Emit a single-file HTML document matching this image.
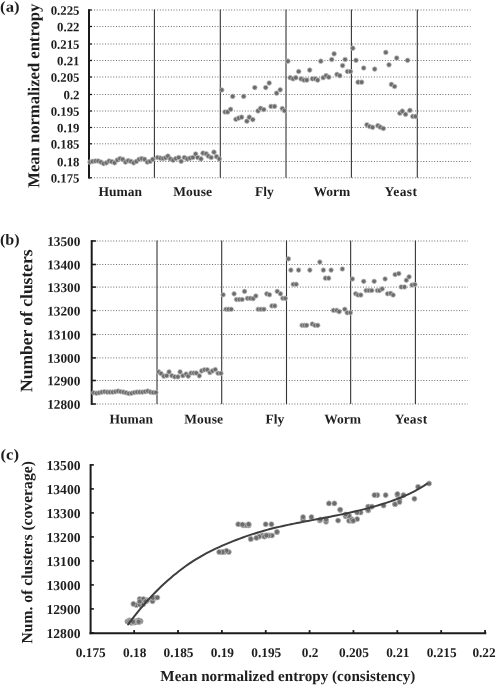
<!DOCTYPE html>
<html><head><meta charset="utf-8"><title>Figure</title>
<style>html,body{margin:0;padding:0;background:#fff;}svg{display:block;}text{font-family:"Liberation Serif",serif;font-weight:bold;fill:#1e1e1e;}</style></head><body>
<svg width="497" height="685" viewBox="0 0 497 685" style="will-change:transform">
<text transform="translate(0.10 11.70) rotate(0.04) scale(1.1 1)" font-size="15.2">(a)</text>
<text transform="translate(39.3,95.75) rotate(-90.04)" text-anchor="middle" font-size="16.6">Mean normalized entropy</text>
<line x1="94.00" y1="10.00" x2="470.60" y2="10.00" stroke="#6e6e6e" stroke-width="1" stroke-dasharray="1 1.744"/>
<text x="79.50" y="14.80" transform="rotate(0.04 79.50 14.80)" text-anchor="end" font-size="12.8">0.225</text>
<line x1="88.5" y1="10.00" x2="92.1" y2="10.00" stroke="#1a1a1a" stroke-width="1.3"/>
<line x1="94.00" y1="26.50" x2="470.60" y2="26.50" stroke="#6e6e6e" stroke-width="1" stroke-dasharray="1 1.744"/>
<text x="79.50" y="31.30" transform="rotate(0.04 79.50 31.30)" text-anchor="end" font-size="12.8">0.22</text>
<line x1="88.5" y1="26.50" x2="92.1" y2="26.50" stroke="#1a1a1a" stroke-width="1.3"/>
<line x1="94.00" y1="44.00" x2="470.60" y2="44.00" stroke="#6e6e6e" stroke-width="1" stroke-dasharray="1 1.744"/>
<text x="79.50" y="48.80" transform="rotate(0.04 79.50 48.80)" text-anchor="end" font-size="12.8">0.215</text>
<line x1="88.5" y1="44.00" x2="92.1" y2="44.00" stroke="#1a1a1a" stroke-width="1.3"/>
<line x1="94.00" y1="60.50" x2="470.60" y2="60.50" stroke="#6e6e6e" stroke-width="1" stroke-dasharray="1 1.744"/>
<text x="79.50" y="65.30" transform="rotate(0.04 79.50 65.30)" text-anchor="end" font-size="12.8">0.21</text>
<line x1="88.5" y1="60.50" x2="92.1" y2="60.50" stroke="#1a1a1a" stroke-width="1.3"/>
<line x1="94.00" y1="77.00" x2="470.60" y2="77.00" stroke="#6e6e6e" stroke-width="1" stroke-dasharray="1 1.744"/>
<text x="79.50" y="81.80" transform="rotate(0.04 79.50 81.80)" text-anchor="end" font-size="12.8">0.205</text>
<line x1="88.5" y1="77.00" x2="92.1" y2="77.00" stroke="#1a1a1a" stroke-width="1.3"/>
<line x1="94.00" y1="94.50" x2="470.60" y2="94.50" stroke="#6e6e6e" stroke-width="1" stroke-dasharray="1 1.744"/>
<text x="79.50" y="99.30" transform="rotate(0.04 79.50 99.30)" text-anchor="end" font-size="12.8">0.2</text>
<line x1="88.5" y1="94.50" x2="92.1" y2="94.50" stroke="#1a1a1a" stroke-width="1.3"/>
<line x1="94.00" y1="111.00" x2="470.60" y2="111.00" stroke="#6e6e6e" stroke-width="1" stroke-dasharray="1 1.744"/>
<text x="79.50" y="115.80" transform="rotate(0.04 79.50 115.80)" text-anchor="end" font-size="12.8">0.195</text>
<line x1="88.5" y1="111.00" x2="92.1" y2="111.00" stroke="#1a1a1a" stroke-width="1.3"/>
<line x1="94.00" y1="127.50" x2="470.60" y2="127.50" stroke="#6e6e6e" stroke-width="1" stroke-dasharray="1 1.744"/>
<text x="79.50" y="132.30" transform="rotate(0.04 79.50 132.30)" text-anchor="end" font-size="12.8">0.19</text>
<line x1="88.5" y1="127.50" x2="92.1" y2="127.50" stroke="#1a1a1a" stroke-width="1.3"/>
<line x1="94.00" y1="143.80" x2="470.60" y2="143.80" stroke="#6e6e6e" stroke-width="1" stroke-dasharray="1 1.744"/>
<text x="79.50" y="148.60" transform="rotate(0.04 79.50 148.60)" text-anchor="end" font-size="12.8">0.185</text>
<line x1="88.5" y1="143.80" x2="92.1" y2="143.80" stroke="#1a1a1a" stroke-width="1.3"/>
<line x1="94.00" y1="161.50" x2="470.60" y2="161.50" stroke="#6e6e6e" stroke-width="1" stroke-dasharray="1 1.744"/>
<text x="79.50" y="166.30" transform="rotate(0.04 79.50 166.30)" text-anchor="end" font-size="12.8">0.18</text>
<line x1="88.5" y1="161.50" x2="92.1" y2="161.50" stroke="#1a1a1a" stroke-width="1.3"/>
<line x1="94.00" y1="177.80" x2="470.60" y2="177.80" stroke="#6e6e6e" stroke-width="1" stroke-dasharray="1 1.744"/>
<text x="79.50" y="182.60" transform="rotate(0.04 79.50 182.60)" text-anchor="end" font-size="12.8">0.175</text>
<line x1="88.5" y1="177.80" x2="92.1" y2="177.80" stroke="#1a1a1a" stroke-width="1.3"/>
<line x1="89.0" y1="9.30" x2="89.0" y2="178.50" stroke="#1a1a1a" stroke-width="2"/>
<line x1="154.40" y1="9.40" x2="154.40" y2="177.80" stroke="#353535" stroke-width="1.1"/>
<line x1="220.30" y1="9.40" x2="220.30" y2="177.80" stroke="#353535" stroke-width="1.1"/>
<line x1="286.00" y1="9.40" x2="286.00" y2="177.80" stroke="#353535" stroke-width="1.1"/>
<line x1="351.40" y1="9.40" x2="351.40" y2="177.80" stroke="#353535" stroke-width="1.1"/>
<line x1="417.30" y1="9.40" x2="417.30" y2="177.80" stroke="#353535" stroke-width="1.1"/>
<g fill="#6c6c6c" stroke="#bdbdbd" stroke-width="0.75">
<circle cx="90.00" cy="162.10" r="2.35"/><circle cx="92.73" cy="161.40" r="2.35"/><circle cx="95.46" cy="161.00" r="2.35"/><circle cx="98.19" cy="161.00" r="2.35"/><circle cx="100.92" cy="162.10" r="2.35"/><circle cx="103.65" cy="163.60" r="2.35"/><circle cx="106.38" cy="162.80" r="2.35"/><circle cx="109.11" cy="161.00" r="2.35"/><circle cx="111.84" cy="161.70" r="2.35"/><circle cx="114.57" cy="162.80" r="2.35"/><circle cx="117.30" cy="160.00" r="2.35"/><circle cx="120.03" cy="158.60" r="2.35"/><circle cx="122.76" cy="159.30" r="2.35"/><circle cx="125.49" cy="162.10" r="2.35"/><circle cx="128.22" cy="160.70" r="2.35"/><circle cx="130.95" cy="161.40" r="2.35"/><circle cx="133.68" cy="162.80" r="2.35"/><circle cx="136.41" cy="161.40" r="2.35"/><circle cx="139.14" cy="159.30" r="2.35"/><circle cx="141.87" cy="158.60" r="2.35"/><circle cx="144.60" cy="159.30" r="2.35"/><circle cx="147.33" cy="162.10" r="2.35"/><circle cx="150.06" cy="161.40" r="2.35"/><circle cx="152.79" cy="159.30" r="2.35"/>
<circle cx="157.63" cy="157.51" r="2.35"/><circle cx="160.45" cy="158.21" r="2.35"/><circle cx="163.27" cy="158.49" r="2.35"/><circle cx="165.66" cy="157.79" r="2.35"/><circle cx="167.92" cy="156.10" r="2.35"/><circle cx="170.31" cy="158.92" r="2.35"/><circle cx="173.13" cy="160.18" r="2.35"/><circle cx="175.94" cy="158.49" r="2.35"/><circle cx="178.76" cy="157.51" r="2.35"/><circle cx="181.15" cy="161.31" r="2.35"/><circle cx="184.39" cy="157.51" r="2.35"/><circle cx="187.21" cy="158.92" r="2.35"/><circle cx="190.03" cy="158.21" r="2.35"/><circle cx="192.85" cy="157.51" r="2.35"/><circle cx="195.66" cy="153.99" r="2.35"/><circle cx="197.77" cy="157.51" r="2.35"/><circle cx="201.01" cy="158.92" r="2.35"/><circle cx="202.99" cy="153.14" r="2.35"/><circle cx="206.23" cy="153.85" r="2.35"/><circle cx="208.34" cy="156.10" r="2.35"/><circle cx="211.15" cy="157.51" r="2.35"/><circle cx="213.97" cy="152.15" r="2.35"/><circle cx="216.51" cy="156.66" r="2.35"/><circle cx="219.32" cy="158.92" r="2.35"/>
<circle cx="221.80" cy="90.00" r="2.35"/><circle cx="225.00" cy="112.00" r="2.35"/><circle cx="227.60" cy="112.00" r="2.35"/><circle cx="230.60" cy="109.30" r="2.35"/><circle cx="232.70" cy="96.40" r="2.35"/><circle cx="235.90" cy="119.30" r="2.35"/><circle cx="238.70" cy="118.10" r="2.35"/><circle cx="241.60" cy="117.20" r="2.35"/><circle cx="243.70" cy="96.40" r="2.35"/><circle cx="246.90" cy="121.20" r="2.35"/><circle cx="249.30" cy="117.20" r="2.35"/><circle cx="252.80" cy="119.60" r="2.35"/><circle cx="254.80" cy="87.60" r="2.35"/><circle cx="258.00" cy="110.90" r="2.35"/><circle cx="260.60" cy="108.30" r="2.35"/><circle cx="263.80" cy="109.60" r="2.35"/><circle cx="265.70" cy="87.60" r="2.35"/><circle cx="269.20" cy="83.00" r="2.35"/><circle cx="271.00" cy="106.40" r="2.35"/><circle cx="274.60" cy="106.40" r="2.35"/><circle cx="276.60" cy="93.20" r="2.35"/><circle cx="280.20" cy="89.80" r="2.35"/><circle cx="282.30" cy="108.50" r="2.35"/><circle cx="284.50" cy="110.70" r="2.35"/>
<circle cx="287.90" cy="61.20" r="2.35"/><circle cx="290.20" cy="77.70" r="2.35"/><circle cx="293.10" cy="78.80" r="2.35"/><circle cx="295.80" cy="77.70" r="2.35"/><circle cx="298.70" cy="71.50" r="2.35"/><circle cx="301.10" cy="78.90" r="2.35"/><circle cx="304.00" cy="80.10" r="2.35"/><circle cx="306.80" cy="80.10" r="2.35"/><circle cx="309.70" cy="70.10" r="2.35"/><circle cx="312.40" cy="78.80" r="2.35"/><circle cx="315.30" cy="78.80" r="2.35"/><circle cx="317.70" cy="80.10" r="2.35"/><circle cx="320.80" cy="61.20" r="2.35"/><circle cx="323.20" cy="77.70" r="2.35"/><circle cx="326.10" cy="75.70" r="2.35"/><circle cx="328.80" cy="77.20" r="2.35"/><circle cx="331.70" cy="59.50" r="2.35"/><circle cx="334.10" cy="53.80" r="2.35"/><circle cx="337.00" cy="74.40" r="2.35"/><circle cx="339.80" cy="75.70" r="2.35"/><circle cx="342.60" cy="65.60" r="2.35"/><circle cx="345.10" cy="59.50" r="2.35"/><circle cx="347.50" cy="71.50" r="2.35"/><circle cx="350.50" cy="71.50" r="2.35"/>
<circle cx="352.80" cy="48.20" r="2.35"/><circle cx="356.00" cy="60.30" r="2.35"/><circle cx="358.10" cy="82.20" r="2.35"/><circle cx="361.60" cy="82.20" r="2.35"/><circle cx="363.70" cy="68.00" r="2.35"/><circle cx="366.90" cy="124.80" r="2.35"/><circle cx="369.70" cy="126.50" r="2.35"/><circle cx="372.60" cy="127.30" r="2.35"/><circle cx="374.70" cy="69.10" r="2.35"/><circle cx="377.90" cy="125.70" r="2.35"/><circle cx="380.30" cy="127.20" r="2.35"/><circle cx="383.30" cy="128.50" r="2.35"/><circle cx="385.80" cy="52.40" r="2.35"/><circle cx="389.00" cy="64.80" r="2.35"/><circle cx="391.40" cy="84.40" r="2.35"/><circle cx="394.60" cy="86.50" r="2.35"/><circle cx="396.70" cy="58.00" r="2.35"/><circle cx="399.90" cy="113.20" r="2.35"/><circle cx="402.30" cy="111.20" r="2.35"/><circle cx="405.60" cy="114.30" r="2.35"/><circle cx="407.60" cy="60.30" r="2.35"/><circle cx="409.90" cy="110.40" r="2.35"/><circle cx="412.80" cy="116.40" r="2.35"/><circle cx="415.50" cy="116.40" r="2.35"/>
</g>
<text x="98.60" y="196.00" transform="rotate(0.04 98.60 196.00)" font-size="13.5">Human</text>
<text x="173.20" y="196.00" transform="rotate(0.04 173.20 196.00)" letter-spacing="0.15" font-size="13.5">Mouse</text>
<text x="255.10" y="196.00" transform="rotate(0.04 255.10 196.00)" font-size="13.5">Fly</text>
<text x="313.40" y="196.00" transform="rotate(0.04 313.40 196.00)" font-size="13.5">Worm</text>
<text x="384.60" y="196.00" transform="rotate(0.04 384.60 196.00)" letter-spacing="0.4" font-size="13.5">Yeast</text>
<text transform="translate(0.00 244.40) rotate(0.04) scale(1.06 1)" font-size="15.2">(b)</text>
<text transform="translate(32.2,320.7) rotate(-90.04)" text-anchor="middle" font-size="17.5">Number of clusters</text>
<line x1="96.80" y1="241.00" x2="467.80" y2="241.00" stroke="#6e6e6e" stroke-width="1" stroke-dasharray="1 1.744"/>
<text x="80.40" y="245.90" transform="rotate(0.04 80.40 245.90)" text-anchor="end" font-size="13.3">13500</text>
<line x1="91.2" y1="241.00" x2="95.9" y2="241.00" stroke="#1a1a1a" stroke-width="1.6"/>
<line x1="96.80" y1="264.50" x2="467.80" y2="264.50" stroke="#6e6e6e" stroke-width="1" stroke-dasharray="1 1.744"/>
<text x="80.40" y="269.40" transform="rotate(0.04 80.40 269.40)" text-anchor="end" font-size="13.3">13400</text>
<line x1="91.2" y1="264.50" x2="95.9" y2="264.50" stroke="#1a1a1a" stroke-width="1.6"/>
<line x1="96.80" y1="287.10" x2="467.80" y2="287.10" stroke="#6e6e6e" stroke-width="1" stroke-dasharray="1 1.744"/>
<text x="80.40" y="292.00" transform="rotate(0.04 80.40 292.00)" text-anchor="end" font-size="13.3">13300</text>
<line x1="91.2" y1="287.10" x2="95.9" y2="287.10" stroke="#1a1a1a" stroke-width="1.6"/>
<line x1="96.80" y1="310.60" x2="467.80" y2="310.60" stroke="#6e6e6e" stroke-width="1" stroke-dasharray="1 1.744"/>
<text x="80.40" y="315.50" transform="rotate(0.04 80.40 315.50)" text-anchor="end" font-size="13.3">13200</text>
<line x1="91.2" y1="310.60" x2="95.9" y2="310.60" stroke="#1a1a1a" stroke-width="1.6"/>
<line x1="96.80" y1="334.50" x2="467.80" y2="334.50" stroke="#6e6e6e" stroke-width="1" stroke-dasharray="1 1.744"/>
<text x="80.40" y="339.40" transform="rotate(0.04 80.40 339.40)" text-anchor="end" font-size="13.3">13100</text>
<line x1="91.2" y1="334.50" x2="95.9" y2="334.50" stroke="#1a1a1a" stroke-width="1.6"/>
<line x1="96.80" y1="357.90" x2="467.80" y2="357.90" stroke="#6e6e6e" stroke-width="1" stroke-dasharray="1 1.744"/>
<text x="80.40" y="362.80" transform="rotate(0.04 80.40 362.80)" text-anchor="end" font-size="13.3">13000</text>
<line x1="91.2" y1="357.90" x2="95.9" y2="357.90" stroke="#1a1a1a" stroke-width="1.6"/>
<line x1="96.80" y1="380.50" x2="467.80" y2="380.50" stroke="#6e6e6e" stroke-width="1" stroke-dasharray="1 1.744"/>
<text x="80.40" y="385.40" transform="rotate(0.04 80.40 385.40)" text-anchor="end" font-size="13.3">12900</text>
<line x1="91.2" y1="380.50" x2="95.9" y2="380.50" stroke="#1a1a1a" stroke-width="1.6"/>
<line x1="96.80" y1="404.00" x2="467.80" y2="404.00" stroke="#6e6e6e" stroke-width="1" stroke-dasharray="1 1.744"/>
<text x="80.40" y="408.90" transform="rotate(0.04 80.40 408.90)" text-anchor="end" font-size="13.3">12800</text>
<line x1="91.2" y1="404.00" x2="95.9" y2="404.00" stroke="#1a1a1a" stroke-width="1.6"/>
<line x1="91.7" y1="240.20" x2="91.7" y2="404.80" stroke="#1a1a1a" stroke-width="2"/>
<line x1="157.00" y1="240.40" x2="157.00" y2="404.00" stroke="#353535" stroke-width="1.1"/>
<line x1="221.70" y1="240.40" x2="221.70" y2="404.00" stroke="#353535" stroke-width="1.1"/>
<line x1="286.50" y1="240.40" x2="286.50" y2="404.00" stroke="#353535" stroke-width="1.1"/>
<line x1="350.65" y1="240.40" x2="350.65" y2="404.00" stroke="#353535" stroke-width="1.1"/>
<line x1="415.40" y1="240.40" x2="415.40" y2="404.00" stroke="#353535" stroke-width="1.1"/>
<g fill="#6c6c6c" stroke="#bdbdbd" stroke-width="0.75">
<circle cx="93.80" cy="392.80" r="2.30"/><circle cx="96.50" cy="393.20" r="2.30"/><circle cx="99.20" cy="392.80" r="2.30"/><circle cx="101.90" cy="392.10" r="2.30"/><circle cx="104.60" cy="391.70" r="2.30"/><circle cx="107.30" cy="392.10" r="2.30"/><circle cx="110.00" cy="392.10" r="2.30"/><circle cx="112.70" cy="392.10" r="2.30"/><circle cx="115.40" cy="391.70" r="2.30"/><circle cx="118.10" cy="391.10" r="2.30"/><circle cx="120.80" cy="391.70" r="2.30"/><circle cx="123.50" cy="392.10" r="2.30"/><circle cx="126.20" cy="392.80" r="2.30"/><circle cx="128.90" cy="393.50" r="2.30"/><circle cx="131.60" cy="393.20" r="2.30"/><circle cx="134.30" cy="392.50" r="2.30"/><circle cx="137.00" cy="392.10" r="2.30"/><circle cx="139.70" cy="392.10" r="2.30"/><circle cx="142.40" cy="392.10" r="2.30"/><circle cx="145.10" cy="391.70" r="2.30"/><circle cx="147.80" cy="391.10" r="2.30"/><circle cx="150.50" cy="392.10" r="2.30"/><circle cx="153.20" cy="392.50" r="2.30"/><circle cx="155.90" cy="392.50" r="2.30"/>
<circle cx="158.65" cy="371.90" r="2.30"/><circle cx="161.04" cy="373.59" r="2.30"/><circle cx="163.86" cy="376.13" r="2.30"/><circle cx="166.68" cy="375.70" r="2.30"/><circle cx="169.07" cy="371.90" r="2.30"/><circle cx="171.89" cy="375.70" r="2.30"/><circle cx="174.70" cy="376.83" r="2.30"/><circle cx="177.94" cy="376.83" r="2.30"/><circle cx="180.06" cy="371.90" r="2.30"/><circle cx="182.87" cy="375.70" r="2.30"/><circle cx="186.11" cy="374.01" r="2.30"/><circle cx="188.23" cy="376.13" r="2.30"/><circle cx="191.04" cy="373.03" r="2.30"/><circle cx="193.86" cy="373.03" r="2.30"/><circle cx="196.25" cy="373.03" r="2.30"/><circle cx="199.35" cy="375.85" r="2.30"/><circle cx="201.61" cy="370.92" r="2.30"/><circle cx="204.42" cy="369.79" r="2.30"/><circle cx="207.24" cy="369.79" r="2.30"/><circle cx="209.92" cy="372.61" r="2.30"/><circle cx="212.45" cy="370.92" r="2.30"/><circle cx="215.27" cy="369.51" r="2.30"/><circle cx="218.08" cy="373.31" r="2.30"/><circle cx="220.90" cy="373.31" r="2.30"/>
<circle cx="223.15" cy="294.80" r="2.30"/><circle cx="226.05" cy="309.29" r="2.30"/><circle cx="228.46" cy="309.29" r="2.30"/><circle cx="231.20" cy="309.29" r="2.30"/><circle cx="234.10" cy="293.83" r="2.30"/><circle cx="236.51" cy="299.47" r="2.30"/><circle cx="239.41" cy="299.47" r="2.30"/><circle cx="242.14" cy="299.47" r="2.30"/><circle cx="244.56" cy="291.42" r="2.30"/><circle cx="247.46" cy="298.34" r="2.30"/><circle cx="250.19" cy="298.34" r="2.30"/><circle cx="253.09" cy="298.66" r="2.30"/><circle cx="255.83" cy="295.93" r="2.30"/><circle cx="258.24" cy="309.29" r="2.30"/><circle cx="260.98" cy="309.29" r="2.30"/><circle cx="263.88" cy="309.29" r="2.30"/><circle cx="266.77" cy="293.83" r="2.30"/><circle cx="269.51" cy="294.80" r="2.30"/><circle cx="271.92" cy="305.91" r="2.30"/><circle cx="274.82" cy="305.91" r="2.30"/><circle cx="277.24" cy="291.42" r="2.30"/><circle cx="280.45" cy="293.83" r="2.30"/><circle cx="282.87" cy="298.34" r="2.30"/><circle cx="285.28" cy="298.34" r="2.30"/>
<circle cx="288.44" cy="258.85" r="2.30"/><circle cx="290.85" cy="270.12" r="2.30"/><circle cx="293.27" cy="284.29" r="2.30"/><circle cx="296.16" cy="284.29" r="2.30"/><circle cx="298.58" cy="270.12" r="2.30"/><circle cx="302.12" cy="325.33" r="2.30"/><circle cx="304.54" cy="325.33" r="2.30"/><circle cx="306.63" cy="325.33" r="2.30"/><circle cx="309.85" cy="270.12" r="2.30"/><circle cx="312.26" cy="324.04" r="2.30"/><circle cx="315.00" cy="325.33" r="2.30"/><circle cx="317.73" cy="325.33" r="2.30"/><circle cx="319.83" cy="262.07" r="2.30"/><circle cx="323.37" cy="270.12" r="2.30"/><circle cx="325.46" cy="278.17" r="2.30"/><circle cx="328.68" cy="278.17" r="2.30"/><circle cx="331.09" cy="270.12" r="2.30"/><circle cx="333.51" cy="310.36" r="2.30"/><circle cx="336.73" cy="310.36" r="2.30"/><circle cx="339.14" cy="311.65" r="2.30"/><circle cx="342.36" cy="268.99" r="2.30"/><circle cx="344.78" cy="309.24" r="2.30"/><circle cx="347.19" cy="312.78" r="2.30"/><circle cx="350.41" cy="312.78" r="2.30"/>
<circle cx="352.44" cy="278.93" r="2.30"/><circle cx="355.66" cy="293.73" r="2.30"/><circle cx="358.07" cy="295.02" r="2.30"/><circle cx="360.81" cy="295.02" r="2.30"/><circle cx="363.71" cy="281.34" r="2.30"/><circle cx="366.12" cy="290.52" r="2.30"/><circle cx="369.02" cy="290.52" r="2.30"/><circle cx="371.75" cy="290.52" r="2.30"/><circle cx="374.17" cy="281.34" r="2.30"/><circle cx="377.39" cy="290.52" r="2.30"/><circle cx="379.48" cy="290.52" r="2.30"/><circle cx="382.22" cy="288.91" r="2.30"/><circle cx="385.11" cy="278.93" r="2.30"/><circle cx="387.53" cy="293.73" r="2.30"/><circle cx="390.59" cy="293.41" r="2.30"/><circle cx="393.16" cy="295.02" r="2.30"/><circle cx="395.09" cy="274.58" r="2.30"/><circle cx="398.80" cy="273.61" r="2.30"/><circle cx="401.21" cy="286.97" r="2.30"/><circle cx="404.43" cy="286.97" r="2.30"/><circle cx="406.36" cy="280.21" r="2.30"/><circle cx="409.10" cy="276.83" r="2.30"/><circle cx="412.00" cy="285.04" r="2.30"/><circle cx="414.89" cy="284.56" r="2.30"/>
</g>
<text x="109.50" y="423.60" transform="rotate(0.04 109.50 423.60)" font-size="13.5">Human</text>
<text x="184.20" y="423.60" transform="rotate(0.04 184.20 423.60)" letter-spacing="0.15" font-size="13.5">Mouse</text>
<text x="265.40" y="423.60" transform="rotate(0.04 265.40 423.60)" font-size="13.5">Fly</text>
<text x="324.30" y="423.60" transform="rotate(0.04 324.30 423.60)" font-size="13.5">Worm</text>
<text x="394.80" y="423.60" transform="rotate(0.04 394.80 423.60)" letter-spacing="0.4" font-size="13.5">Yeast</text>
<text transform="translate(0.50 459.50) rotate(0.04) scale(1.1 1)" font-size="15.2">(c)</text>
<text transform="translate(32.2,552.35) rotate(-90.04)" text-anchor="middle" font-size="15.65">Num. of clusters (coverage)</text>
<text x="80.50" y="470.00" transform="rotate(0.04 80.50 470.00)" text-anchor="end" font-size="13.6">13500</text>
<line x1="90.0" y1="464.90" x2="93.9" y2="464.90" stroke="#1a1a1a" stroke-width="1.6"/>
<text x="80.50" y="494.00" transform="rotate(0.04 80.50 494.00)" text-anchor="end" font-size="13.6">13400</text>
<line x1="90.0" y1="488.90" x2="93.9" y2="488.90" stroke="#1a1a1a" stroke-width="1.6"/>
<text x="80.50" y="518.00" transform="rotate(0.04 80.50 518.00)" text-anchor="end" font-size="13.6">13300</text>
<line x1="90.0" y1="512.90" x2="93.9" y2="512.90" stroke="#1a1a1a" stroke-width="1.6"/>
<text x="80.50" y="542.00" transform="rotate(0.04 80.50 542.00)" text-anchor="end" font-size="13.6">13200</text>
<line x1="90.0" y1="536.90" x2="93.9" y2="536.90" stroke="#1a1a1a" stroke-width="1.6"/>
<text x="80.50" y="566.00" transform="rotate(0.04 80.50 566.00)" text-anchor="end" font-size="13.6">13100</text>
<line x1="90.0" y1="560.90" x2="93.9" y2="560.90" stroke="#1a1a1a" stroke-width="1.6"/>
<text x="80.50" y="590.00" transform="rotate(0.04 80.50 590.00)" text-anchor="end" font-size="13.6">13000</text>
<line x1="90.0" y1="584.90" x2="93.9" y2="584.90" stroke="#1a1a1a" stroke-width="1.6"/>
<text x="80.50" y="614.00" transform="rotate(0.04 80.50 614.00)" text-anchor="end" font-size="13.6">12900</text>
<line x1="90.0" y1="608.90" x2="93.9" y2="608.90" stroke="#1a1a1a" stroke-width="1.6"/>
<text x="80.50" y="638.00" transform="rotate(0.04 80.50 638.00)" text-anchor="end" font-size="13.6">12800</text>
<line x1="90.0" y1="632.90" x2="93.9" y2="632.90" stroke="#1a1a1a" stroke-width="1.6"/>
<line x1="90.6" y1="464.10" x2="90.6" y2="634.20" stroke="#1a1a1a" stroke-width="2"/>
<line x1="89.5" y1="633.20" x2="486.3" y2="633.20" stroke="#1a1a1a" stroke-width="2"/>
<text x="90.80" y="656.90" transform="rotate(0.04 90.80 656.90)" text-anchor="middle" font-size="13.3">0.175</text>
<line x1="134.16" y1="633.50" x2="134.16" y2="630.10" stroke="#1a1a1a" stroke-width="1.8"/>
<text x="134.66" y="656.90" transform="rotate(0.04 134.66 656.90)" text-anchor="middle" font-size="13.3">0.18</text>
<line x1="178.02" y1="633.50" x2="178.02" y2="630.10" stroke="#1a1a1a" stroke-width="1.8"/>
<text x="178.52" y="656.90" transform="rotate(0.04 178.52 656.90)" text-anchor="middle" font-size="13.3">0.185</text>
<line x1="221.88" y1="633.50" x2="221.88" y2="630.10" stroke="#1a1a1a" stroke-width="1.8"/>
<text x="222.38" y="656.90" transform="rotate(0.04 222.38 656.90)" text-anchor="middle" font-size="13.3">0.19</text>
<line x1="265.74" y1="633.50" x2="265.74" y2="630.10" stroke="#1a1a1a" stroke-width="1.8"/>
<text x="266.24" y="656.90" transform="rotate(0.04 266.24 656.90)" text-anchor="middle" font-size="13.3">0.195</text>
<line x1="309.60" y1="633.50" x2="309.60" y2="630.10" stroke="#1a1a1a" stroke-width="1.8"/>
<text x="310.10" y="656.90" transform="rotate(0.04 310.10 656.90)" text-anchor="middle" font-size="13.3">0.2</text>
<line x1="353.46" y1="633.50" x2="353.46" y2="630.10" stroke="#1a1a1a" stroke-width="1.8"/>
<text x="353.96" y="656.90" transform="rotate(0.04 353.96 656.90)" text-anchor="middle" font-size="13.3">0.205</text>
<line x1="397.32" y1="633.50" x2="397.32" y2="630.10" stroke="#1a1a1a" stroke-width="1.8"/>
<text x="397.82" y="656.90" transform="rotate(0.04 397.82 656.90)" text-anchor="middle" font-size="13.3">0.21</text>
<line x1="441.18" y1="633.50" x2="441.18" y2="630.10" stroke="#1a1a1a" stroke-width="1.8"/>
<text x="441.68" y="656.90" transform="rotate(0.04 441.68 656.90)" text-anchor="middle" font-size="13.3">0.215</text>
<line x1="485.04" y1="633.50" x2="485.04" y2="630.10" stroke="#1a1a1a" stroke-width="1.8"/>
<text x="484.04" y="656.90" transform="rotate(0.04 484.04 656.90)" text-anchor="middle" font-size="13.3">0.22</text>
<g fill="#6c6c6c" stroke="#bdbdbd" stroke-width="0.75">
<circle cx="131.34" cy="622.13" r="2.55"/><circle cx="133.17" cy="622.54" r="2.55"/><circle cx="134.21" cy="622.13" r="2.55"/><circle cx="134.21" cy="621.41" r="2.55"/><circle cx="131.34" cy="620.99" r="2.55"/><circle cx="127.42" cy="621.41" r="2.55"/><circle cx="129.51" cy="621.41" r="2.55"/><circle cx="134.21" cy="621.41" r="2.55"/><circle cx="132.38" cy="620.99" r="2.55"/><circle cx="129.51" cy="620.38" r="2.55"/><circle cx="136.83" cy="620.99" r="2.55"/><circle cx="140.49" cy="621.41" r="2.55"/><circle cx="138.66" cy="622.13" r="2.55"/><circle cx="131.34" cy="622.85" r="2.55"/><circle cx="135.00" cy="622.54" r="2.55"/><circle cx="133.17" cy="621.82" r="2.55"/><circle cx="129.51" cy="621.41" r="2.55"/><circle cx="133.17" cy="621.41" r="2.55"/><circle cx="138.66" cy="621.41" r="2.55"/><circle cx="140.49" cy="620.99" r="2.55"/><circle cx="138.66" cy="620.38" r="2.55"/><circle cx="131.34" cy="621.41" r="2.55"/><circle cx="133.17" cy="621.82" r="2.55"/><circle cx="138.66" cy="621.82" r="2.55"/><circle cx="143.34" cy="599.99" r="2.55"/><circle cx="141.50" cy="601.73" r="2.55"/><circle cx="140.77" cy="604.35" r="2.55"/><circle cx="142.61" cy="603.91" r="2.55"/><circle cx="147.02" cy="599.99" r="2.55"/><circle cx="139.66" cy="603.91" r="2.55"/><circle cx="136.35" cy="605.07" r="2.55"/><circle cx="140.77" cy="605.07" r="2.55"/><circle cx="143.34" cy="599.99" r="2.55"/><circle cx="133.40" cy="603.91" r="2.55"/><circle cx="143.34" cy="602.17" r="2.55"/><circle cx="139.66" cy="604.35" r="2.55"/><circle cx="141.50" cy="601.15" r="2.55"/><circle cx="143.34" cy="601.15" r="2.55"/><circle cx="152.55" cy="601.15" r="2.55"/><circle cx="143.34" cy="604.06" r="2.55"/><circle cx="139.66" cy="598.98" r="2.55"/><circle cx="154.75" cy="597.81" r="2.55"/><circle cx="152.91" cy="597.81" r="2.55"/><circle cx="147.02" cy="600.72" r="2.55"/><circle cx="143.34" cy="598.98" r="2.55"/><circle cx="157.33" cy="597.52" r="2.55"/><circle cx="145.55" cy="601.44" r="2.55"/><circle cx="139.66" cy="601.44" r="2.55"/><circle cx="319.79" cy="520.54" r="2.55"/><circle cx="262.29" cy="535.47" r="2.55"/><circle cx="262.29" cy="535.47" r="2.55"/><circle cx="269.35" cy="535.47" r="2.55"/><circle cx="303.07" cy="519.54" r="2.55"/><circle cx="243.21" cy="525.35" r="2.55"/><circle cx="246.35" cy="525.35" r="2.55"/><circle cx="248.70" cy="525.35" r="2.55"/><circle cx="303.07" cy="517.06" r="2.55"/><circle cx="238.24" cy="524.19" r="2.55"/><circle cx="248.70" cy="524.19" r="2.55"/><circle cx="242.42" cy="524.52" r="2.55"/><circle cx="326.07" cy="521.70" r="2.55"/><circle cx="265.16" cy="535.47" r="2.55"/><circle cx="271.96" cy="535.47" r="2.55"/><circle cx="268.56" cy="535.47" r="2.55"/><circle cx="326.07" cy="519.54" r="2.55"/><circle cx="338.09" cy="520.54" r="2.55"/><circle cx="276.93" cy="531.98" r="2.55"/><circle cx="276.93" cy="531.98" r="2.55"/><circle cx="311.43" cy="517.06" r="2.55"/><circle cx="320.32" cy="519.54" r="2.55"/><circle cx="271.44" cy="524.19" r="2.55"/><circle cx="265.69" cy="524.19" r="2.55"/><circle cx="395.07" cy="504.18" r="2.55"/><circle cx="351.94" cy="519.44" r="2.55"/><circle cx="349.07" cy="520.77" r="2.55"/><circle cx="351.94" cy="520.77" r="2.55"/><circle cx="368.15" cy="506.67" r="2.55"/><circle cx="348.81" cy="516.12" r="2.55"/><circle cx="345.67" cy="516.12" r="2.55"/><circle cx="345.67" cy="516.12" r="2.55"/><circle cx="371.81" cy="506.67" r="2.55"/><circle cx="349.07" cy="516.12" r="2.55"/><circle cx="349.07" cy="516.12" r="2.55"/><circle cx="345.67" cy="514.47" r="2.55"/><circle cx="395.07" cy="504.18" r="2.55"/><circle cx="351.94" cy="519.44" r="2.55"/><circle cx="357.17" cy="519.11" r="2.55"/><circle cx="353.25" cy="520.77" r="2.55"/><circle cx="399.52" cy="499.70" r="2.55"/><circle cx="414.41" cy="498.71" r="2.55"/><circle cx="360.57" cy="512.48" r="2.55"/><circle cx="357.17" cy="512.48" r="2.55"/><circle cx="383.57" cy="505.51" r="2.55"/><circle cx="399.52" cy="502.03" r="2.55"/><circle cx="368.15" cy="510.48" r="2.55"/><circle cx="368.15" cy="509.99" r="2.55"/><circle cx="429.05" cy="483.50" r="2.55"/><circle cx="397.42" cy="495.11" r="2.55"/><circle cx="340.18" cy="509.71" r="2.55"/><circle cx="340.18" cy="509.71" r="2.55"/><circle cx="377.30" cy="495.11" r="2.55"/><circle cx="228.83" cy="552.00" r="2.55"/><circle cx="224.39" cy="552.00" r="2.55"/><circle cx="222.30" cy="552.00" r="2.55"/><circle cx="374.42" cy="495.11" r="2.55"/><circle cx="226.48" cy="550.68" r="2.55"/><circle cx="222.56" cy="552.00" r="2.55"/><circle cx="219.16" cy="552.00" r="2.55"/><circle cx="418.07" cy="486.81" r="2.55"/><circle cx="385.66" cy="495.11" r="2.55"/><circle cx="334.43" cy="503.40" r="2.55"/><circle cx="328.94" cy="503.40" r="2.55"/><circle cx="403.44" cy="495.11" r="2.55"/><circle cx="259.15" cy="536.58" r="2.55"/><circle cx="264.38" cy="536.58" r="2.55"/><circle cx="256.28" cy="537.90" r="2.55"/><circle cx="397.42" cy="493.95" r="2.55"/><circle cx="266.47" cy="535.42" r="2.55"/><circle cx="250.79" cy="539.06" r="2.55"/><circle cx="250.79" cy="539.06" r="2.55"/>
</g>
<path d="M128.20 624.42 L131.22 620.35 L134.23 616.41 L137.25 612.59 L140.26 608.90 L143.28 605.33 L146.30 601.88 L149.31 598.55 L152.33 595.32 L155.35 592.21 L158.36 589.20 L161.38 586.29 L164.39 583.48 L167.41 580.76 L170.43 578.14 L173.44 575.60 L176.46 573.16 L179.47 570.79 L182.49 568.51 L185.51 566.31 L188.52 564.19 L191.54 562.16 L194.56 560.21 L197.57 558.34 L200.59 556.55 L203.60 554.84 L206.62 553.20 L209.64 551.64 L212.65 550.13 L215.67 548.69 L218.68 547.29 L221.70 545.94 L224.72 544.64 L227.73 543.36 L230.75 542.12 L233.77 540.91 L236.78 539.74 L239.80 538.61 L242.81 537.50 L245.83 536.43 L248.85 535.40 L251.86 534.39 L254.88 533.43 L257.89 532.49 L260.91 531.59 L263.93 530.72 L266.94 529.89 L269.96 529.09 L272.98 528.32 L275.99 527.58 L279.01 526.87 L282.02 526.18 L285.04 525.52 L288.06 524.87 L291.07 524.24 L294.09 523.63 L297.11 523.03 L300.12 522.44 L303.14 521.86 L306.15 521.28 L309.17 520.71 L312.19 520.14 L315.20 519.57 L318.22 519.00 L321.23 518.43 L324.25 517.85 L327.27 517.27 L330.28 516.68 L333.30 516.09 L336.32 515.48 L339.33 514.87 L342.35 514.24 L345.36 513.59 L348.38 512.94 L351.40 512.26 L354.41 511.57 L357.43 510.86 L360.44 510.13 L363.46 509.37 L366.48 508.60 L369.49 507.79 L372.51 506.96 L375.53 506.11 L378.54 505.22 L381.56 504.30 L384.57 503.36 L387.59 502.37 L390.61 501.35 L393.62 500.29 L396.64 499.17 L399.65 498.00 L402.67 496.76 L405.69 495.46 L408.70 494.08 L411.72 492.62 L414.74 491.07 L417.75 489.43 L420.77 487.70 L423.78 485.85 L426.80 483.89" fill="none" stroke="#3e3e3e" stroke-width="2" stroke-linecap="round" stroke-linejoin="round"/>
<text x="287.85" y="681.00" transform="rotate(0.04 287.85 681.00)" text-anchor="middle" font-size="15.15">Mean normalized entropy (consistency)</text>
</svg></body></html>
